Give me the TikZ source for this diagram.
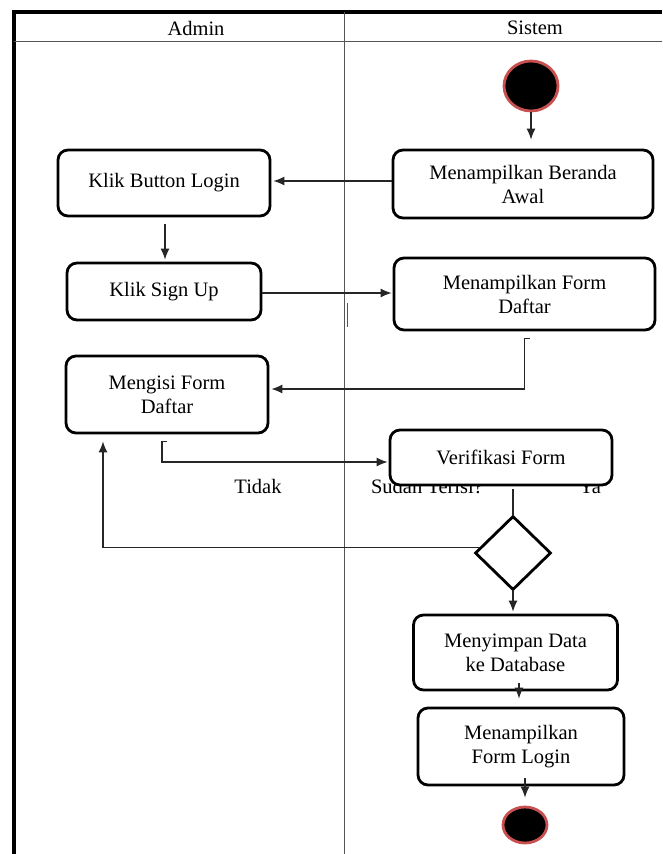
\documentclass[tikz,border=0pt]{standalone}
\usepackage{fontspec}
\setmainfont{Liberation Serif}
\usetikzlibrary{arrows.meta,shapes.geometric,calc}
\definecolor{startred}{RGB}{200,80,80}
\definecolor{lanegray}{RGB}{85,85,85}
\tikzset{
  act/.style={draw=black, fill=white, rounded corners=10pt, line width=2.8pt, align=center,
    font=\fontsize{20.5}{24}\selectfont, inner sep=2pt},
  lbl/.style={font=\fontsize{20.5}{24}\selectfont, inner sep=0pt},
  arr/.style={draw=black!85, line width=1.2pt, -{Latex[length=11pt,width=9pt]}},
  ln/.style={draw=black!85, line width=1.2pt},
  lane/.style={draw=lanegray, line width=1pt},
  term/.style={ellipse, fill=black, draw=startred, line width=2.8pt, inner sep=0pt},
}
\begin{document}
\begin{tikzpicture}[x=1pt,y=-1pt]
\useasboundingbox (0,0) rectangle (662,854);
% frame and lanes
\draw[line width=3.2pt] (14,854) -- (14,12) -- (662,12);
\draw[lane] (14,41) -- (662,41);
\draw[lane] (344,12) -- (344,854);
\draw[lane] (347,303) -- (347,327);
\node[lbl] (admin) at (196,28) {Admin};
\node[lbl] (sistem) at (535,28) {Sistem};
% labels under verification
\node[lbl, anchor=base] (tidak) at (258,493) {Tidak};
\node[lbl, anchor=base] (sudah) at (427,493) {Sudah Terisi?};
\node[lbl, anchor=base] (ya) at (590,493) {Ya};
% nodes
\node[term, minimum width=54pt, minimum height=50pt] (start) at (531,86) {};
\node[act, minimum width=260pt, minimum height=68pt] (beranda) at (523,184) {Menampilkan Beranda\\Awal};
\node[act, minimum width=212pt, minimum height=66pt] (login) at (164,183) {Klik Button Login};
\node[act, minimum width=194pt, minimum height=57pt] (signup) at (164,291.5) {Klik Sign Up};
\node[act, minimum width=261pt, minimum height=72pt] (fdaftar) at (524.5,294) {Menampilkan Form\\Daftar};
\node[act, minimum width=202pt, minimum height=77pt] (mengisi) at (167,394.5) {Mengisi Form\\Daftar};
\node[act, minimum width=222pt, minimum height=55pt] (verif) at (501,457.5) {Verifikasi Form};
\node[diamond, draw=black, fill=white, line width=2.8pt, minimum width=76pt, minimum height=74pt, inner sep=0pt] (dia) at (513,553) {};
\node[act, minimum width=204pt, minimum height=75pt] (simpan) at (515.5,652.5) {Menyimpan Data\\ke Database};
\node[act, minimum width=206pt, minimum height=77pt] (flogin) at (521,746.5) {Menampilkan\\Form Login};
\node[term, minimum width=44pt, minimum height=36pt] (end) at (525,825) {};
% connectors
\draw[arr, shorten >=9pt] (start.south) -- (start.south |- beranda.north);
\draw[arr, shorten >=2pt] ([yshift=3pt]beranda.west) -- ([yshift=3pt]beranda.west -| login.east);
\draw[arr, shorten <=7pt, shorten >=2pt] ([xshift=1pt]login.south) -- ([xshift=1pt]login.south |- signup.north);
\draw[arr, shorten >=1pt] ([yshift=-1.5pt]signup.east) -- ([yshift=-1.5pt]signup.east -| fdaftar.west);
\draw[arr, shorten >=2pt] ([shift={(5,7)}]fdaftar.south) -- ++(-5,0) |- ([yshift=5.5pt]mengisi.east);
\draw[arr, shorten >=1pt] ([shift={(0,7)}]mengisi.south) -- ++(-5,0) |- ([yshift=-4.5pt]verif.west);
\draw[ln] ([shift={(12,3)}]verif.south) -- (dia.north);
\draw[arr] (dia.170) -| ([shift={(-64,7)}]mengisi.south);
\draw[arr, shorten >=2pt] (dia.south) -- (dia.south |- simpan.north);
\draw[arr] ([shift={(3.5,-8)}]simpan.south) -- ([shift={(3.5,-8)}]simpan.south |- flogin.north);
\draw[arr] ([shift={(4,-8)}]flogin.south) -- ([shift={(4,-8)}]flogin.south |- end.north);
\end{tikzpicture}
\end{document}
